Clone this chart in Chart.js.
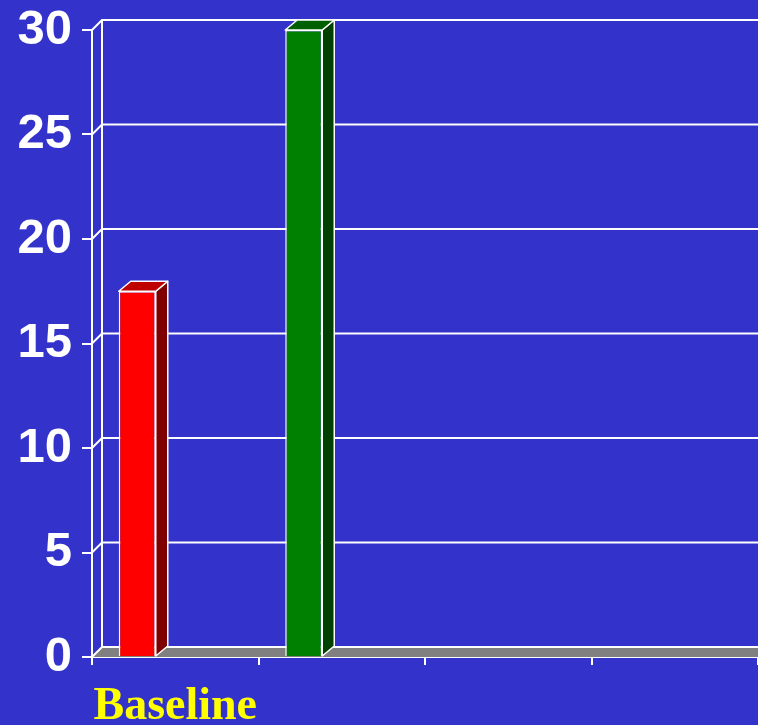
<!DOCTYPE html>
<html>
<head>
<meta charset="utf-8">
<script src="https://cdn.jsdelivr.net/npm/chart.js@4"></script>
<style>
  html, body { margin: 0; padding: 0; background: #3333CC; }
  #wrap { width: 758px; height: 725px; }
</style>
</head>
<body>
<div id="wrap"><canvas id="c" width="758" height="725"></canvas></div>
<script>
// ---- data ----
const categories = ["Baseline", "", "", ""];
const seriesValues = [17.5, 30, null, null];
const emptySeries = [null, null, null, null];
const barColors = ["#FF0000", "#008000", "#FF0000", "#008000"];
const barSideColors = ["#7F0000", "#004000", "#7F0000", "#004000"];
const barTopColors = ["#BF0000", "#006000", "#BF0000", "#006000"];
const yTickValues = [0, 5, 10, 15, 20, 25, 30];

const DX = 10, DY = 10;     // wall depth
const BDX = 12, BDY = 10;   // bar depth

const bg = {
  id: 'bg',
  beforeDraw(chart) {
    const ctx = chart.ctx;
    ctx.save();
    ctx.fillStyle = '#3333CC';
    ctx.fillRect(0, 0, chart.width, chart.height);
    ctx.restore();
  }
};

const wall = {
  id: 'wall',
  beforeDatasetsDraw(chart) {
    const ctx = chart.ctx;
    const a = chart.chartArea;
    const ys = chart.scales.y;
    ctx.save();
    // floor
    ctx.fillStyle = '#808080';
    ctx.beginPath();
    ctx.moveTo(a.left, a.bottom);
    ctx.lineTo(a.left + DX, a.bottom - DY);
    ctx.lineTo(a.right, a.bottom - DY);
    ctx.lineTo(a.right, a.bottom);
    ctx.closePath();
    ctx.fill();
    ctx.strokeStyle = '#FFFFFF';
    ctx.lineWidth = 2;
    // back wall left edge
    ctx.beginPath();
    ctx.moveTo(a.left + DX, ys.getPixelForValue(30) - DY);
    ctx.lineTo(a.left + DX, ys.getPixelForValue(0) - DY);
    ctx.stroke();
    yTickValues.forEach(v => {
      const y = ys.getPixelForValue(v);
      ctx.beginPath();
      ctx.moveTo(a.left, y);
      ctx.lineTo(a.left + DX, y - DY);
      ctx.lineTo(a.right, y - DY);
      ctx.stroke();
    });
    ctx.restore();
  },
  afterDatasetsDraw(chart) {
    const ctx = chart.ctx;
    const meta = chart.getDatasetMeta(0);
    ctx.save();
    ctx.strokeStyle = '#FFFFFF';
    ctx.lineWidth = 1.5;
    ctx.lineJoin = 'round';
    meta.data.forEach((el, i) => {
      if (seriesValues[i] == null) return;
      const p = el.getProps(['x', 'y', 'base', 'width'], true);
      const l = p.x - p.width / 2, r = p.x + p.width / 2;
      const t = p.y, b = p.base;
      // side
      ctx.fillStyle = barSideColors[i];
      ctx.beginPath();
      ctx.moveTo(r, b);
      ctx.lineTo(r + BDX, b - BDY);
      ctx.lineTo(r + BDX, t - BDY);
      ctx.lineTo(r, t);
      ctx.closePath();
      ctx.fill();
      ctx.stroke();
      // top
      ctx.fillStyle = barTopColors[i];
      ctx.beginPath();
      ctx.moveTo(l, t);
      ctx.lineTo(l + BDX, t - BDY);
      ctx.lineTo(r + BDX, t - BDY);
      ctx.lineTo(r, t);
      ctx.closePath();
      ctx.fill();
      ctx.stroke();
    });
    ctx.restore();
  }
};

new Chart(document.getElementById('c'), {
  type: 'bar',
  data: {
    labels: categories,
    datasets: [
      {
        data: seriesValues,
        backgroundColor: barColors,
        borderColor: '#FFFFFF',
        borderWidth: 1.5,
        categoryPercentage: 0.913,
        barPercentage: 0.487,
        clip: false
      },
      {
        data: emptySeries,
        backgroundColor: '#FFFF00',
        categoryPercentage: 0.913,
        barPercentage: 0.487
      }
    ]
  },
  plugins: [bg, wall],
  options: {
    responsive: false,
    animation: false,
    devicePixelRatio: 1,
    layout: { padding: { top: 30, right: 0, left: 0, bottom: 0 } },
    plugins: { legend: { display: false }, tooltip: { enabled: false } },
    scales: {
      x: {
        afterFit(s) { s.height = 68; s.paddingLeft = 0; s.paddingRight = 0; },
        grid: { display: true, drawOnChartArea: false, drawTicks: true, tickLength: 8, color: '#FFFFFF', lineWidth: 2, offset: true },
        border: { display: true, color: '#FFFFFF', width: 2 },
        ticks: {
          color: '#FFFF00',
          padding: 15,
          maxRotation: 0,
          autoSkip: false,
          font: { family: '"Liberation Serif", "Times New Roman", serif', weight: 'bold', size: 46 }
        }
      },
      y: {
        min: 0, max: 30,
        afterFit(s) { s.width = 92; s.paddingTop = 0; s.paddingBottom = 0; },
        afterBuildTicks(s) { s.ticks = yTickValues.map(v => ({ value: v })); },
        grid: { display: true, drawOnChartArea: false, drawTicks: true, tickLength: 10, color: '#FFFFFF', lineWidth: 2 },
        border: { display: true, color: '#FFFFFF', width: 2 },
        ticks: {
          color: '#FFFFFF',
          padding: 10,
          font: { family: '"Liberation Sans", Arial, sans-serif', weight: 'bold', size: 49 }
        }
      }
    }
  }
});
</script>
</body>
</html>
